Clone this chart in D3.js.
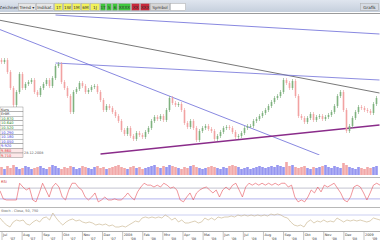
<!DOCTYPE html>
<html><head><meta charset="utf-8">
<script src="https://cdn.jsdelivr.net/npm/d3@7"></script>
<style>html,body{margin:0;padding:0;background:#fff;}svg{display:block;font-family:"DejaVu Sans",Arial,sans-serif;}</style>
</head><body>
<svg id="c" width="380" height="240"></svg>
<script>
// ---------- DATA ----------
const closes = [108,110,98,82,65,78,96,82,86,88,90,78,75,82,86,90,84,92,104,106,88,82,74,58,78,81,87,84,78,80,83,84,78,70,60,64,62,58,54,49,40,36,42,34,31,37,35,33,38,42,49,53,51,54,50,60,72,67,65,66,60,47,43,49,42,30,39,42,44,41,39,31,34,38,42,43,42,38,33,34,37,42,44,44,49,51,54,57,60,64,68,72,74,78,90,87,82,89,74,54,52,48,52,56,50,53,54,51,53,55,58,64,74,78,60,39,44,52,58,63,62,60,59,57,66,72];
const volumes = [8,6,9,7,10,8,6,7,9,8,6,7,8,9,7,6,8,10,9,7,6,8,7,9,8,6,7,9,8,7,6,8,9,7,8,6,7,8,9,10,8,7,6,8,9,7,8,6,7,8,9,10,8,7,9,8,10,9,8,7,6,8,7,9,10,8,7,6,7,8,9,8,7,6,8,7,9,10,9,8,6,7,8,6,7,8,9,8,7,8,9,8,10,9,8,13,9,10,8,7,8,9,7,6,8,7,8,9,10,8,7,9,8,7,12,10,8,7,6,8,7,6,8,7,8,9];
const rsi = [60,30,26,26,26,26,88,74,63,70,26,19,52,88,63,37,74,88,74,37,26,63,88,88,72,63,37,26,37,52,19,26,37,26,26,30,26,26,37,52,37,26,56,74,88,81,81,74,81,74,88,81,70,74,63,26,19,37,52,26,52,63,70,74,63,52,63,37,63,74,63,81,88,63,37,74,88,81,88,81,88,81,88,81,88,81,88,88,74,81,37,19,26,19,37,63,52,74,56,81,74,81,88,70,52,26,19,37,74,81,74,52,26,52,81,88,81];
const stoch = [60,40,25,15,40,50,45,50,30,25,40,50,40,60,65,50,85,60,40,25,40,50,55,45,50,40,35,40,35,25,30,25,30,20,25,15,15,20,15,25,35,45,40,60,65,60,65,60,65,60,75,65,50,60,40,50,35,35,40,45,35,40,60,50,60,50,65,60,65,65,70,65,75,70,75,70,75,70,75,70,75,70,80,75,80,75,65,60,40,25,20,25,15,40,50,35,45,40,50,40,45,40,60,50,40,50,45,50,45,50,45,40,45,60,55,50];
const rsiLevels = [70, 30];
const stochLevels = [75];
const dateLabels = [["Jul","'07"],["Aug","'07"],["Sep","'07"],["Okt","'07"],["Nov","'07"],["Dez","'07"],["2008","'08"],["Feb","'08"],["Mrz","'08"],["Apr","'08"],["Mai","'08"],["Jun","'08"],["Jul","'08"],["Aug","'08"],["Sep","'08"],["Okt","'08"],["Nov","'08"],["Dez","'08"],["2009","'09"]];
const trendLines = [ // [index, price] endpoints
  {a:[-1,150], b:[126,77], color:"#555", w:0.8},
  {a:[18,155], b:[126,136], color:"#6a6ad8", w:0.8},
  {a:[18,107], b:[126,90], color:"#7070d8", w:0.8},
  {a:[-1,141], b:[106,15], color:"#6a6ad8", w:0.8},
  {a:[33,16], b:[126,45], color:"#8a2c8a", w:1.4}
];
const toolbarItems = [
  {t:"Zeichnen", w:18, bg:null},
  {t:"Trend ▾", w:18, bg:"#e6e6e6"},
  {t:"Indikat.", w:18, bg:"#e6e6e6"},
  {t:"1T", w:9, bg:"#f2f25a"},{t:"1W", w:9, bg:"#f2f25a"},{t:"1M", w:9, bg:"#f2f25a"},{t:"6M", w:9, bg:"#f2f25a"},{t:"1J", w:10, bg:"#f2f25a"},
  {t:"1T", w:6, bg:"#3ec83e"},{t:"5", w:6, bg:"#3ec83e"},{t:"6", w:6, bg:"#3ec83e"},{t:"XXXX", w:13, bg:"#3ec83e"},
  {t:"XX", w:9, bg:"#c8283c"},{t:"XXX", w:10, bg:"#c8283c"},
  {t:"Symbol", w:20, bg:"#d6d6d6"}
];
const infoRows = [
  {t:"Kurs", c:"#333"},{t:"Eröff.", c:"#333"},{t:"10.870", c:"#2a8a2a"},{t:"10.640", c:"#2a8a2a"},{t:"10.520", c:"#2a8a2a"},
  {t:"10.290", c:"#3a3ae0"},{t:"10.180", c:"#3a3ae0"},{t:"10.050", c:"#3a3ae0"},{t:"9.920", c:"#3a3ae0"},
  {t:"9.860", c:"#e03a3a"},{t:"9.710", c:"#e03a3a"}
];

// ---------- DRAW ----------
const svg = d3.select("#c");
const W = 380;
const defs = svg.append("defs");
const g1 = defs.append("linearGradient").attr("id","tb").attr("x1",0).attr("x2",0).attr("y1",0).attr("y2",1);
g1.append("stop").attr("offset","0").attr("stop-color","#dfe5ee");
g1.append("stop").attr("offset","1").attr("stop-color","#c5cfdc");
svg.append("rect").attr("x",0).attr("y",0).attr("width",W).attr("height",12).attr("fill","url(#tb)");
svg.append("line").attr("x1",0).attr("x2",W).attr("y1",13.5).attr("y2",13.5).attr("stroke","#9a9a9a").attr("stroke-width",1);
let tx = 0;
toolbarItems.forEach(it=>{
  if(it.bg){
    svg.append("rect").attr("x",tx+0.5).attr("y",3.5).attr("width",it.w-1).attr("height",7).attr("fill",it.bg).attr("stroke","#aaa").attr("stroke-width",0.5);
  }
  svg.append("text").attr("x",tx+it.w/2).attr("y",8.8).attr("text-anchor","middle").attr("font-size",4.2).attr("fill","#333").text(it.t);
  tx += it.w;
});
svg.append("rect").attr("x",tx+0.5).attr("y",3.5).attr("width",15).attr("height",7).attr("fill","#fff").attr("stroke","#aaa").attr("stroke-width",0.5);
svg.append("rect").attr("x",360.5).attr("y",3.5).attr("width",18).attr("height",7).attr("fill","#d6dbe3").attr("stroke","#aaa").attr("stroke-width",0.5);
svg.append("text").attr("x",369.5).attr("y",8.8).attr("text-anchor","middle").attr("font-size",4.2).attr("fill","#333").text("Grafik");

const n = closes.length;
const x = d3.scaleLinear().domain([0, n-1]).range([1.5, 376.5]);
const y = d3.scaleLinear().domain([20, 140]).range([150, 30]);

defs.append("clipPath").attr("id","mainclip").append("rect").attr("x",0).attr("y",14).attr("width",W).attr("height",141);
const main = svg.append("g").attr("clip-path","url(#mainclip)");

trendLines.forEach(l=>{
  main.append("line").attr("x1",x(l.a[0])).attr("y1",y(l.a[1])).attr("x2",x(l.b[0])).attr("y2",y(l.b[1]))
    .attr("stroke",l.color).attr("stroke-width",l.w);
});

const cand = closes.map((c,i)=>{
  const o = i>0 ? closes[i-1] : c+2;
  return {i, o, c, h:Math.max(o,c)+2, l:Math.min(o,c)-2, up:c>=o};
});
main.selectAll(".wick").data(cand).join("line").attr("class","wick")
  .attr("x1",d=>x(d.i)).attr("x2",d=>x(d.i)).attr("y1",d=>y(d.h)).attr("y2",d=>y(d.l))
  .attr("stroke",d=>d.up?"#7aaa7a":"#eb9a9a").attr("stroke-width",0.6);
main.selectAll(".body").data(cand).join("rect").attr("class","body")
  .attr("x",d=>x(d.i)-0.8).attr("width",1.6)
  .attr("y",d=>y(Math.max(d.o,d.c))).attr("height",d=>Math.max(1,Math.abs(y(d.o)-y(d.c))))
  .attr("fill",d=>d.up?"#7fb27f":"#f2a2a2");

const ib = svg.append("g");
const rowH = 4.6, boxY = 107;
infoRows.forEach((r,i)=>{
  ib.append("rect").attr("x",0).attr("y",boxY+i*rowH).attr("width",23).attr("height",rowH)
    .attr("fill", i>=9 ? "#fde8e8" : "#fff").attr("stroke","#777").attr("stroke-width",0.4);
  ib.append("text").attr("x",1).attr("y",boxY+i*rowH+3.6).attr("font-size",3.6).attr("fill",r.c).text(r.t);
});
svg.append("text").attr("x",24).attr("y",154).attr("font-size",3.4).attr("fill","#555").text("28.12.2008");

const vy = d3.scaleLinear().domain([0,15]).range([175,160]);
svg.selectAll(".vol").data(volumes).join("rect").attr("class","vol")
  .attr("x",(d,i)=>x(i)-1.3).attr("width",2.6).attr("y",d=>vy(d)).attr("height",d=>vy(0)-vy(d))
  .attr("fill",(d,i)=>cand[i].up?"#9696f0":"#f2a8a8");
svg.append("line").attr("x1",0).attr("x2",W).attr("y1",177.5).attr("y2",177.5).attr("stroke","#999").attr("stroke-width",0.7);

const rx = d3.scaleLinear().domain([0, rsi.length-1]).range([0, W]);
const ry = d3.scaleLinear().domain([0,100]).range([207,180]);
svg.append("text").attr("x",1).attr("y",183).attr("font-size",3.6).attr("fill","#d03030").text("RSI");
rsiLevels.forEach((lv,i)=>svg.append("line").attr("x1",0).attr("x2",W).attr("y1",ry(lv)).attr("y2",ry(lv)).attr("stroke",i===0?"#9a9ab0":"#8080e0").attr("stroke-width",0.6));
svg.append("path").datum(rsi).attr("fill","none").attr("stroke","#e6505a").attr("stroke-width",0.6)
  .attr("d", d3.line().x((d,i)=>rx(i)).y(d=>ry(d)));
svg.append("line").attr("x1",0).attr("x2",W).attr("y1",207.5).attr("y2",207.5).attr("stroke","#999").attr("stroke-width",0.7);

const sx = d3.scaleLinear().domain([0, stoch.length-1]).range([0, W]);
const sy = d3.scaleLinear().domain([0,100]).range([230,210]);
svg.append("text").attr("x",1).attr("y",212).attr("font-size",3.4).attr("fill","#666").text("Stoch - Close, 50, 750");
stochLevels.forEach(lv=>svg.append("line").attr("x1",0).attr("x2",W).attr("y1",sy(lv)).attr("y2",sy(lv)).attr("stroke","#aab0e8").attr("stroke-width",0.6));
svg.append("path").datum(stoch).attr("fill","none").attr("stroke","#c4ae84").attr("stroke-width",0.6)
  .attr("d", d3.line().x((d,i)=>sx(i)).y(d=>sy(d)));
svg.append("line").attr("x1",0).attr("x2",W).attr("y1",231.5).attr("y2",231.5).attr("stroke","#888").attr("stroke-width",0.7);

const dx = d3.scalePoint().domain(dateLabels.map((d,i)=>i)).range([2, 364]);
const ax = svg.append("g");
dateLabels.forEach((d,i)=>{
  const px = dx(i);
  ax.append("line").attr("x1",px).attr("x2",px).attr("y1",232).attr("y2",240).attr("stroke","#888").attr("stroke-width",0.5);
  ax.append("text").attr("x",px+1).attr("y",235.5).attr("font-size",3.4).attr("fill","#333").text(d[0]);
  ax.append("text").attr("x",px+8).attr("y",239.5).attr("font-size",3.4).attr("fill","#333").text(d[1]);
});
</script>
</body></html>
